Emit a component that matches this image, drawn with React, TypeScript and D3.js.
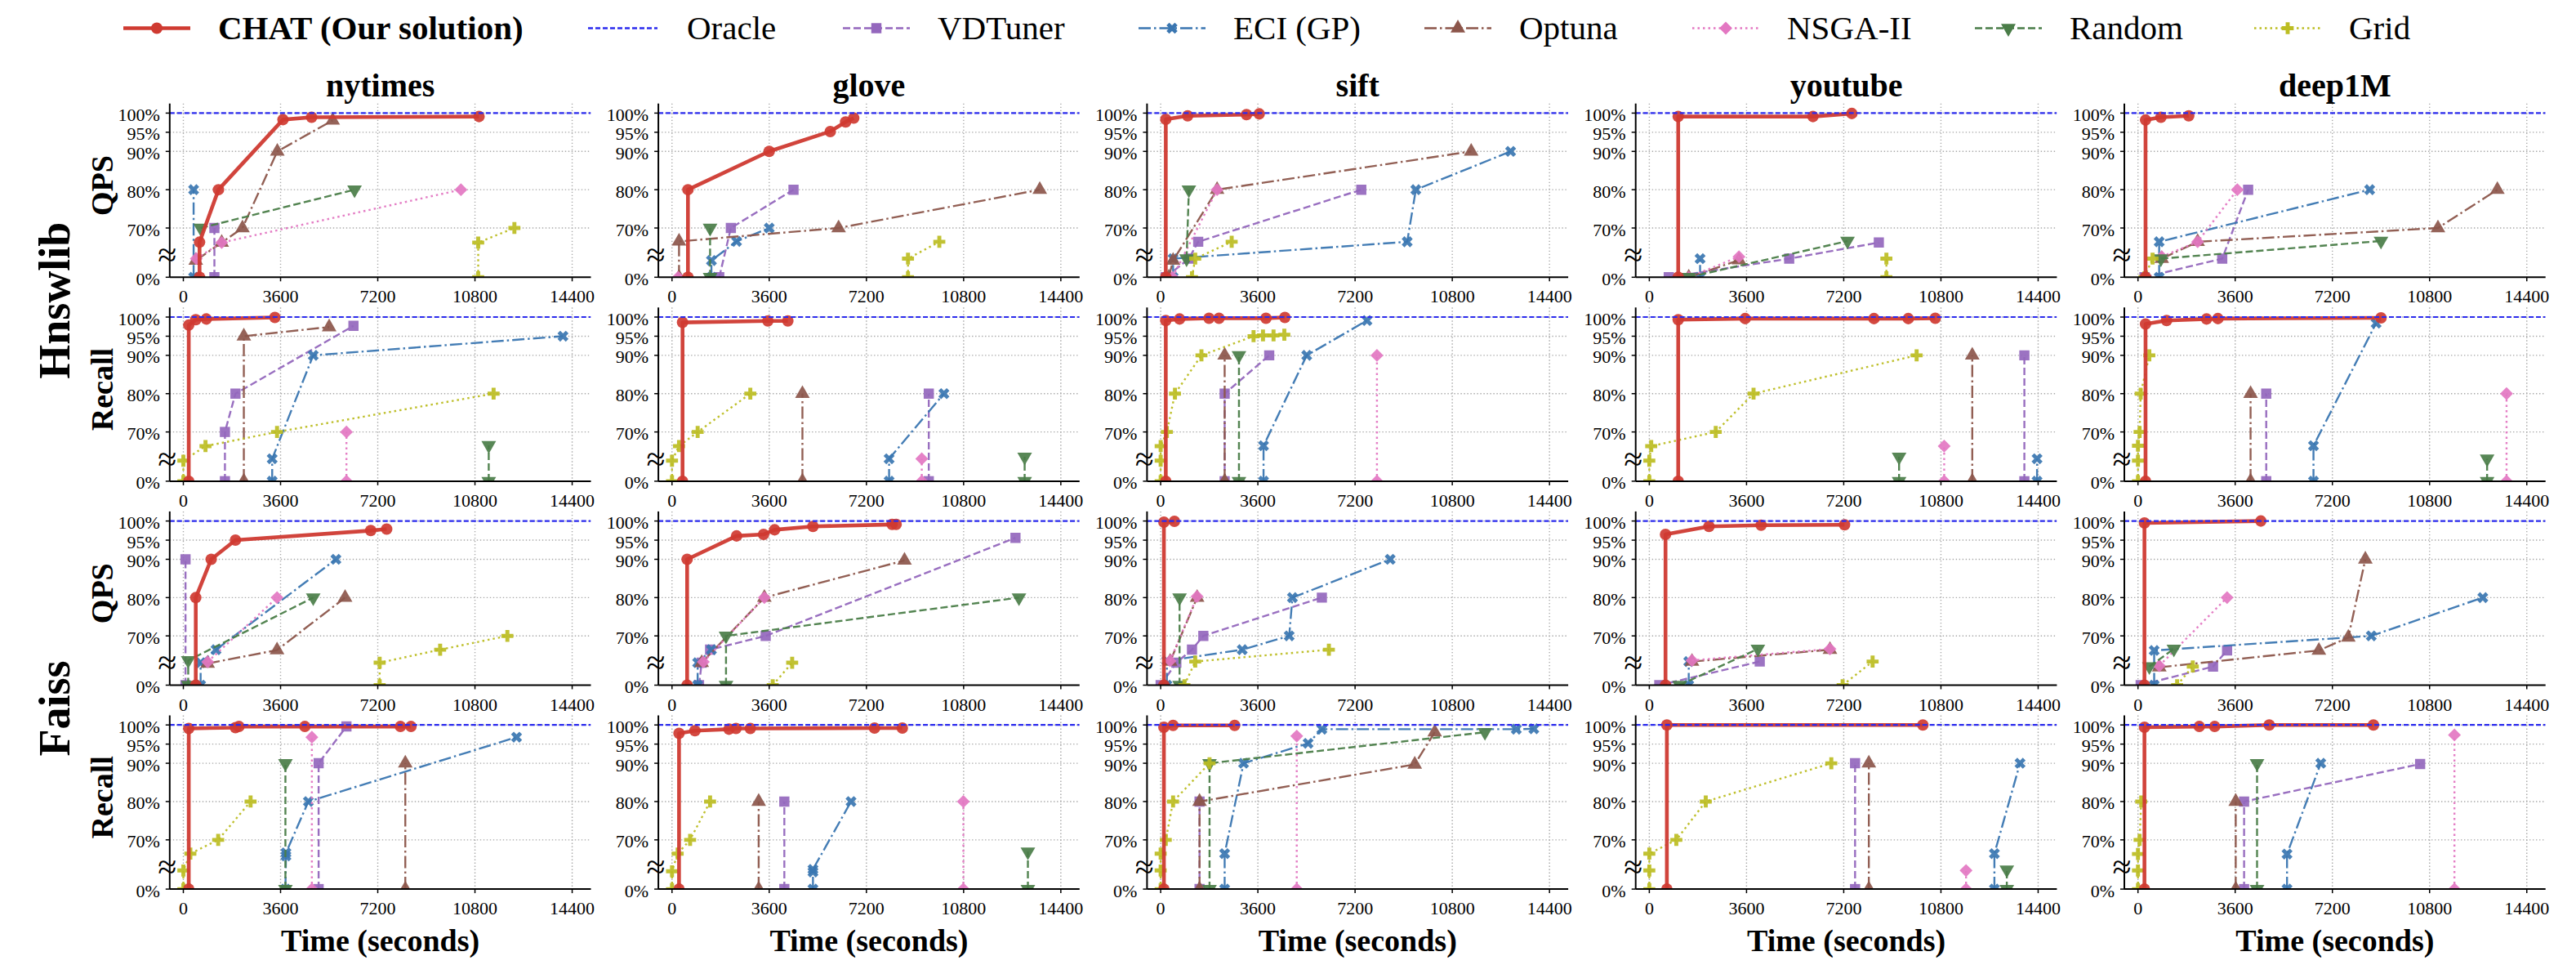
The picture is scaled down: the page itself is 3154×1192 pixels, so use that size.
import React from "react";
import * as d3 from "d3";

type Pt = [number, number];

// ---- categories & ticks ----
const DATASETS = ["nytimes", "glove", "sift", "youtube", "deep1M"];
const SYSTEMS = ["Hnswlib", "Faiss"];
const METRICS = ["QPS", "Recall"];
const X_TICKS = [0, 3600, 7200, 10800, 14400];
const Y_TICKS = [0, 70, 80, 90, 95, 100];
const Y_GRID = [70, 80, 90, 95, 100];
const ORACLE_LEVEL = 100;

// ---- series: one list per panel, panels ordered row by row
// rows: Hnswlib QPS, Hnswlib Recall, Faiss QPS, Faiss Recall; columns follow DATASETS.
// each point is [time in seconds, % of best] ----
const CHAT: Pt[][] = [
  [[600, 0], [600, 66.3], [1300, 80], [3690, 98.3], [4750, 98.9], [10950, 99.1]],
  [[590, 0], [590, 80], [3600, 90], [5860, 95.2], [6430, 97.7], [6730, 98.7]],
  [[190, 0], [190, 98.4], [1000, 99.3], [3180, 99.6], [3650, 99.8]],
  [[1070, 0], [1070, 99.1], [6060, 99.1], [7500, 99.9]],
  [[280, 0], [280, 98.2], [850, 98.9], [1880, 99.3]],

  [[200, 0], [200, 97.9], [460, 99.3], [850, 99.5], [3390, 99.9]],
  [[390, 0], [390, 98.6], [3550, 99], [4290, 99]],
  [[190, 0], [190, 99.1], [700, 99.5], [1790, 99.7], [2160, 99.7], [3900, 99.7], [4600, 99.9]],
  [[1070, 0], [1070, 99.3], [3550, 99.6], [8320, 99.6], [9590, 99.6], [10590, 99.7]],
  [[280, 0], [280, 98.2], [1060, 99.1], [2540, 99.5], [2960, 99.6], [9000, 99.8]],

  [[460, 0], [460, 80], [1030, 90], [1930, 95], [6940, 97.5], [7530, 97.9]],
  [[560, 0], [560, 90], [2390, 96.1], [3390, 96.5], [3800, 97.7], [5220, 98.6], [8150, 99.1], [8300, 99.1]],
  [[120, 0], [120, 99.7], [510, 99.9]],
  [[600, 0], [600, 96.5], [2210, 98.6], [4140, 98.9], [7230, 99]],
  [[240, 0], [240, 99.5], [4550, 100]],

  [[200, 0], [200, 99.1], [1930, 99.3], [2060, 99.6], [4500, 99.6], [8040, 99.6], [8430, 99.6]],
  [[260, 0], [260, 97.8], [850, 98.5], [2110, 98.9], [2370, 99.1], [2900, 99.1], [7500, 99.2], [8530, 99.2]],
  [[120, 0], [120, 99.4], [460, 99.9], [2740, 99.9]],
  [[650, 0], [650, 100], [10130, 100]],
  [[240, 0], [240, 99.4], [2270, 99.6], [2840, 99.6], [4860, 100], [8720, 100]],
];

const VDTUNER: Pt[][] = [
  [[1150, 0], [1150, 70]],
  [[1750, 0], [2180, 70], [4500, 80]],
  [[190, 0], [1045, 62], [1390, 66.4], [7430, 80]],
  [[720, 0], [5180, 62], [8500, 66.2]],
  [[240, 0], [3120, 62], [4080, 80]],

  [[1540, 0], [1540, 70], [1930, 80], [6300, 97.7]],
  [[9510, 0], [9510, 80]],
  [[2370, 0], [2370, 80], [4020, 90]],
  [[13890, 0], [13890, 90]],
  [[4750, 0], [4750, 80]],

  [[80, 0], [80, 90]],
  [[1000, 0], [1100, 63], [1410, 66.4], [3470, 70], [12720, 95.6]],
  [[0, 0], [580, 63], [1160, 66.4], [1580, 70], [5970, 80]],
  [[370, 0], [4090, 63.3]],
  [[100, 0], [2780, 62], [3300, 66.2]],

  [[5010, 0], [5010, 90], [6040, 99.6]],
  [[4160, 0], [4160, 80]],
  [[1440, 0], [1440, 80]],
  [[7620, 0], [7620, 90]],
  [[3930, 0], [3930, 80], [10450, 89.8]],
];

const ECI_GP: Pt[][] = [
  [[380, 0], [380, 80]],
  [[1460, 0], [1460, 61.5], [2390, 66.5], [3600, 70]],
  [[460, 0], [460, 62], [9130, 66.4], [9450, 80], [12960, 90]],
  [[1880, 0], [1880, 62]],
  [[785, 0], [785, 66.4], [8580, 80]],

  [[3290, 0], [3290, 63], [4810, 90], [14060, 95]],
  [[8040, 0], [8040, 63], [10070, 80]],
  [[3810, 0], [3810, 66.4], [5410, 90], [7640, 99.1]],
  [[14360, 0], [14360, 63]],
  [[6500, 0], [6500, 66.4], [8820, 98.4]],

  [[640, 0], [640, 63], [1210, 66.4], [5650, 90]],
  [[950, 0], [950, 63], [1460, 66.4]],
  [[230, 0], [230, 63.5], [3020, 66.4], [4760, 70], [4880, 80], [8500, 90]],
  [[1460, 0], [1460, 63.3]],
  [[600, 0], [600, 66.2], [8640, 70], [12770, 80]],

  [[3780, 0], [3800, 65.8], [3800, 66.6], [4630, 80], [12340, 96.8]],
  [[5220, 0], [5220, 61.6], [5220, 62.3], [6630, 80]],
  [[2370, 0], [2370, 66.4], [3070, 90], [5460, 95.2], [5970, 98.9], [13170, 98.9], [13820, 99]],
  [[12780, 0], [12780, 66.4], [13730, 90]],
  [[5520, 0], [5520, 66.3], [6770, 90]],
];

const OPTUNA: Pt[][] = [
  [[460, 61.5], [1420, 66.2], [2190, 70], [3480, 90], [5530, 98.1]],
  [[260, 0], [260, 66.5], [6170, 70], [13620, 80]],
  [[300, 0], [460, 61.5], [2090, 80], [11500, 90]],
  [[1460, 0], [3320, 61.6]],
  [[880, 62], [2210, 66.4], [11110, 70], [13310, 80]],

  [[2240, 0], [2240, 95], [5400, 97.4]],
  [[4830, 0], [4830, 80]],
  [[2370, 0], [2370, 90]],
  [[11960, 0], [11960, 90]],
  [[4170, 0], [4170, 80]],

  [[900, 62.8], [3470, 66.3], [5990, 80]],
  [[1100, 63], [3420, 80], [8610, 89.7]],
  [[350, 63.3], [1350, 80]],
  [[1580, 63.3], [6690, 66.4]],
  [[790, 61.8], [6700, 66.2], [7790, 69.6], [8420, 90]],

  [[8220, 0], [8220, 90]],
  [[3210, 0], [3210, 80]],
  [[1440, 0], [1440, 80], [9410, 89.7], [10150, 98.1]],
  [[8130, 0], [8130, 90]],
  [[3620, 0], [3620, 80]],
];

const NSGA2: Pt[][] = [
  [[480, 62], [1420, 66.2], [10280, 80]],
  [[230, 0]],
  [[440, 0], [2090, 80]],
  [[1460, 0], [3320, 62.5]],
  [[880, 62.5], [2210, 66.4], [3680, 80]],

  [[6040, 0], [6040, 70]],
  [[9250, 0], [9250, 63]],
  [[8010, 0], [8010, 90]],
  [[10920, 0], [10920, 66.3]],
  [[13650, 0], [13650, 80]],

  [[900, 63.2], [3470, 80]],
  [[1160, 63.2], [3420, 80]],
  [[350, 63.5], [1350, 80.3]],
  [[1580, 63.6], [6690, 66.6]],
  [[790, 62.2], [3300, 80]],

  [[4760, 0], [4760, 96.8]],
  [[10790, 0], [10790, 80]],
  [[5040, 0], [5040, 97.1]],
  [[11730, 0], [11730, 62]],
  [[11720, 0], [11720, 97.4]],
];

const RANDOM: Pt[][] = [
  [[640, 70], [6340, 80]],
  [[1410, 0], [1410, 70]],
  [[960, 62], [1045, 80]],
  [[1460, 0], [7340, 66.6]],
  [[850, 62], [9000, 66.6]],

  [[11310, 0], [11310, 66.5]],
  [[13060, 0], [13060, 63.5]],
  [[2900, 0], [2900, 90]],
  [[9250, 0], [9250, 63.5]],
  [[12930, 0], [12930, 63]],

  [[180, 0], [180, 63.6], [4810, 80]],
  [[2000, 0], [2000, 70], [12850, 80]],
  [[700, 0], [700, 80]],
  [[1120, 0], [4020, 66.6]],
  [[420, 62], [1330, 66.6]],

  [[3780, 0], [3780, 90]],
  [[13180, 0], [13180, 66.9]],
  [[1810, 0], [1810, 90], [12010, 98.1]],
  [[13240, 0], [13240, 62.2]],
  [[4410, 0], [4410, 90]],
];

const GRID_SEARCH: Pt[][] = [
  [[10920, 0], [10920, 66.2], [12260, 70]],
  [[8740, 0], [8740, 62], [9900, 66.4]],
  [[1160, 0], [1280, 62], [2630, 66.4]],
  [[8780, 0], [8780, 62]],
  [[240, 0], [540, 62]],

  [[0, 0], [0, 62.5], [820, 66.3], [3470, 70], [11490, 80]],
  [[0, 0], [0, 62.5], [260, 66.3], [950, 70], [2900, 80]],
  [[0, 0], [0, 62.5], [0, 66.3], [230, 70], [530, 80], [1510, 90], [3440, 95], [3790, 95.2], [4180, 95.2], [4580, 95.4]],
  [[0, 0], [0, 62.5], [70, 66.3], [2460, 70], [3860, 80], [9900, 90]],
  [[0, 0], [0, 62.5], [0, 66.4], [60, 70], [100, 80], [420, 90]],

  [[7270, 0], [7270, 63], [9510, 66.4], [12000, 70]],
  [[3730, 0], [4450, 63]],
  [[880, 0], [1280, 63.3], [6230, 66.4]],
  [[7160, 0], [8270, 63.3]],
  [[1450, 0], [2030, 62]],

  [[0, 0], [0, 62], [260, 66.4], [1290, 70], [2490, 80]],
  [[0, 0], [0, 61.8], [210, 66.4], [670, 70], [1410, 80]],
  [[0, 0], [0, 62], [0, 66.4], [190, 70], [460, 80], [1810, 90]],
  [[0, 0], [0, 62], [0, 66.4], [1000, 70], [2090, 80], [6740, 90]],
  [[0, 0], [0, 62], [0, 66.3], [60, 70], [120, 80]],
];

// ---- styling of each method ----
type MarkerKind = "circle" | "square" | "x" | "triUp" | "diamond" | "triDown" | "plus";
interface Method {
  name: string;
  data: Pt[][];
  color: string;
  dash: string;
  marker: MarkerKind;
  lw: number;
  bold?: boolean;
}

const BASELINES: Method[] = [
  { name: "VDTuner", data: VDTUNER, color: "#9467bd", dash: "9,4", marker: "square", lw: 2.4 },
  { name: "ECI (GP)", data: ECI_GP, color: "#3a76b1", dash: "15,4,2.5,4", marker: "x", lw: 2.4 },
  { name: "Optuna", data: OPTUNA, color: "#8c564b", dash: "15,4,2.5,4", marker: "triUp", lw: 2.4 },
  { name: "NSGA-II", data: NSGA2, color: "#e377c2", dash: "2.5,4", marker: "diamond", lw: 2.4 },
  { name: "Random", data: RANDOM, color: "#4a7d48", dash: "9,4", marker: "triDown", lw: 2.4 },
  { name: "Grid", data: GRID_SEARCH, color: "#bcbd22", dash: "2.5,4", marker: "plus", lw: 2.4 },
];
const OURS: Method = { name: "CHAT (Our solution)", data: CHAT, color: "#cf3a31", dash: "", marker: "circle", lw: 4.6, bold: true };
const ORACLE_COLOR = "#2b2bee";

// ---- layout ----
const WIDTH = 3154;
const HEIGHT = 1192;
const PLOT_LEFT0 = 207.8;
const COL_STEP = 598.3;
const PLOT_W = 515.7;
const PLOT_TOP0 = 126.7;
const ROW_STEP = 249.6;
const PLOT_H = 212.6;
const X_DOMAIN: [number, number] = [-505, 15094];
const Y_DOMAIN: [number, number] = [57.14, 102.5];
const FONT = "'Liberation Serif', 'Times New Roman', serif";
const LEGEND_X = [151, 720, 1032, 1394, 1744, 2072, 2418, 2760];
const LEGEND_FONT = 41;

function markerShape(kind: MarkerKind): { d: string; rot: number } {
  switch (kind) {
    case "circle":
      return { d: d3.symbol(d3.symbolCircle, 155)() as string, rot: 0 };
    case "square":
      return { d: d3.symbol(d3.symbolSquare, 155)() as string, rot: 0 };
    case "x":
      return { d: d3.symbol(d3.symbolCross, 115)() as string, rot: 45 };
    case "triUp":
      return { d: d3.symbol(d3.symbolTriangle, 140)() as string, rot: 0 };
    case "triDown":
      return { d: d3.symbol(d3.symbolTriangle, 140)() as string, rot: 180 };
    case "diamond":
      return { d: d3.symbol(d3.symbolSquare, 125)() as string, rot: 45 };
    case "plus":
      return { d: d3.symbol(d3.symbolCross, 120)() as string, rot: 0 };
  }
}

function Series({ m, pts, xs, ys }: { m: Method; pts: Pt[]; xs: any; ys: any }) {
  const line = d3.line<Pt>().x((d) => xs(d[0])).y((d) => ys(d[1]));
  const shape = markerShape(m.marker);
  return (
    <g>
      {pts.length > 1 && (
        <path
          d={line(pts) as string}
          fill="none"
          stroke={m.color}
          strokeWidth={m.lw}
          strokeDasharray={m.dash || undefined}
          strokeLinejoin="round"
          opacity={0.95}
        />
      )}
      {pts.map((p, i) => (
        <path
          key={i}
          d={shape.d}
          transform={`translate(${xs(p[0])},${ys(p[1])}) rotate(${shape.rot})`}
          fill={m.color}
          fillOpacity={0.92}
        />
      ))}
    </g>
  );
}

function Panel({ row, col }: { row: number; col: number }) {
  const left = PLOT_LEFT0 + col * COL_STEP;
  const top = PLOT_TOP0 + row * ROW_STEP;
  const bottom = top + PLOT_H;
  const right = left + PLOT_W;
  const xs = d3.scaleLinear().domain(X_DOMAIN).range([left, right]);
  const ys = d3.scaleLinear().domain(Y_DOMAIN).range([bottom, top]).clamp(true);
  const idx = row * DATASETS.length + col;
  const clipId = `clip-${row}-${col}`;
  const breakY = ys(70) + 0.55 * (bottom - ys(70));

  return (
    <g>
      <defs>
        <clipPath id={clipId}>
          <rect x={left} y={top} width={PLOT_W} height={PLOT_H} />
        </clipPath>
      </defs>
      {/* grid */}
      <g stroke="#a8a8a8" strokeWidth={1.4} strokeDasharray="1.4,2.6">
        {X_TICKS.map((t) => (
          <line key={`gx${t}`} x1={xs(t)} x2={xs(t)} y1={top} y2={bottom} />
        ))}
        {Y_GRID.map((t) => (
          <line key={`gy${t}`} x1={left} x2={right} y1={ys(t)} y2={ys(t)} />
        ))}
      </g>
      {/* series */}
      <g clipPath={`url(#${clipId})`}>
        {BASELINES.map((m) => (
          <Series key={m.name} m={m} pts={m.data[idx]} xs={xs} ys={ys} />
        ))}
        <Series m={OURS} pts={OURS.data[idx]} xs={xs} ys={ys} />
        <line
          x1={left}
          x2={right}
          y1={ys(ORACLE_LEVEL)}
          y2={ys(ORACLE_LEVEL)}
          stroke={ORACLE_COLOR}
          strokeWidth={2.2}
          strokeDasharray="6,3"
        />
      </g>
      {/* spines */}
      <line x1={left} x2={left} y1={top} y2={bottom} stroke="#000" strokeWidth={2} />
      <line x1={left} x2={right} y1={bottom} y2={bottom} stroke="#000" strokeWidth={2} />
      {/* y ticks */}
      {Y_TICKS.map((t) => (
        <g key={`yt${t}`}>
          <line x1={left - 5} x2={left} y1={ys(t)} y2={ys(t)} stroke="#000" strokeWidth={1.5} />
          <text
            x={left - 12}
            y={ys(t) + 2}
            textAnchor="end"
            dominantBaseline="central"
            fontSize={22}
            fontFamily={FONT}
          >
            {`${t}%`}
          </text>
        </g>
      ))}
      {/* x ticks */}
      {X_TICKS.map((t) => (
        <g key={`xt${t}`}>
          <line x1={xs(t)} x2={xs(t)} y1={bottom} y2={bottom + 5} stroke="#000" strokeWidth={1.5} />
          <text x={xs(t)} y={bottom + 31} textAnchor="middle" fontSize={22} fontFamily={FONT}>
            {t}
          </text>
        </g>
      ))}
      {/* axis break mark */}
      <text
        x={left - 3}
        y={breakY}
        textAnchor="middle"
        dominantBaseline="central"
        fontSize={42}
        fontFamily={FONT}
      >
        ≈
      </text>
      {row === 0 && (
        <text
          x={(left + right) / 2}
          y={118}
          textAnchor="middle"
          fontSize={40}
          fontWeight="bold"
          fontFamily={FONT}
        >
          {DATASETS[col]}
        </text>
      )}
      {row === 3 && (
        <text
          x={(left + right) / 2}
          y={bottom + 76}
          textAnchor="middle"
          fontSize={38}
          fontWeight="bold"
          fontFamily={FONT}
        >
          Time (seconds)
        </text>
      )}
      {col === 0 && (
        <text
          transform={`translate(138,${(top + bottom) / 2 - 6}) rotate(-90)`}
          textAnchor="middle"
          fontSize={38}
          fontWeight="bold"
          fontFamily={FONT}
        >
          {METRICS[row % 2]}
        </text>
      )}
    </g>
  );
}

function LegendItem({ m, x, oracle }: { m?: Method; x: number; oracle?: boolean }) {
  const y = 34.5;
  const len = oracle ? 85 : 82;
  if (oracle) {
    return (
      <g>
        <line x1={x} x2={x + len} y1={y} y2={y} stroke={ORACLE_COLOR} strokeWidth={2.4} strokeDasharray="6,3" />
        <text x={x + 121} y={48} fontSize={LEGEND_FONT} fontFamily={FONT}>
          Oracle
        </text>
      </g>
    );
  }
  const mm = m as Method;
  const shape = markerShape(mm.marker);
  return (
    <g>
      <line
        x1={x}
        x2={x + len}
        y1={y}
        y2={y}
        stroke={mm.color}
        strokeWidth={mm.lw}
        strokeDasharray={mm.dash || undefined}
      />
      <path d={shape.d} transform={`translate(${x + len / 2},${y}) rotate(${shape.rot})`} fill={mm.color} />
      <text
        x={x + 116}
        y={48}
        fontSize={LEGEND_FONT}
        fontWeight={mm.bold ? "bold" : "normal"}
        fontFamily={FONT}
      >
        {mm.name}
      </text>
    </g>
  );
}

export default function App() {
  const rows = d3.range(4);
  const cols = d3.range(DATASETS.length);
  const rowCenter = (r: number) => PLOT_TOP0 + r * ROW_STEP + PLOT_H / 2;
  return (
    <svg
      width={WIDTH}
      height={HEIGHT}
      style={{ position: "absolute", left: 0, top: 0, background: "#fff" }}
      fontFamily={FONT}
    >
      <rect x={0} y={0} width={WIDTH} height={HEIGHT} fill="#fff" />
      <LegendItem m={OURS} x={LEGEND_X[0]} />
      <LegendItem oracle x={LEGEND_X[1]} />
      {BASELINES.map((m, i) => (
        <LegendItem key={m.name} m={m} x={LEGEND_X[i + 2]} />
      ))}
      {rows.map((r) => cols.map((c) => <Panel key={`${r}-${c}`} row={r} col={c} />))}
      {SYSTEMS.map((s, i) => (
        <text
          key={s}
          transform={`translate(85,${(rowCenter(2 * i) + rowCenter(2 * i + 1)) / 2 + 10}) rotate(-90)`}
          textAnchor="middle"
          fontSize={54}
          fontWeight="bold"
          fontFamily={FONT}
        >
          {s}
        </text>
      ))}
    </svg>
  );
}
